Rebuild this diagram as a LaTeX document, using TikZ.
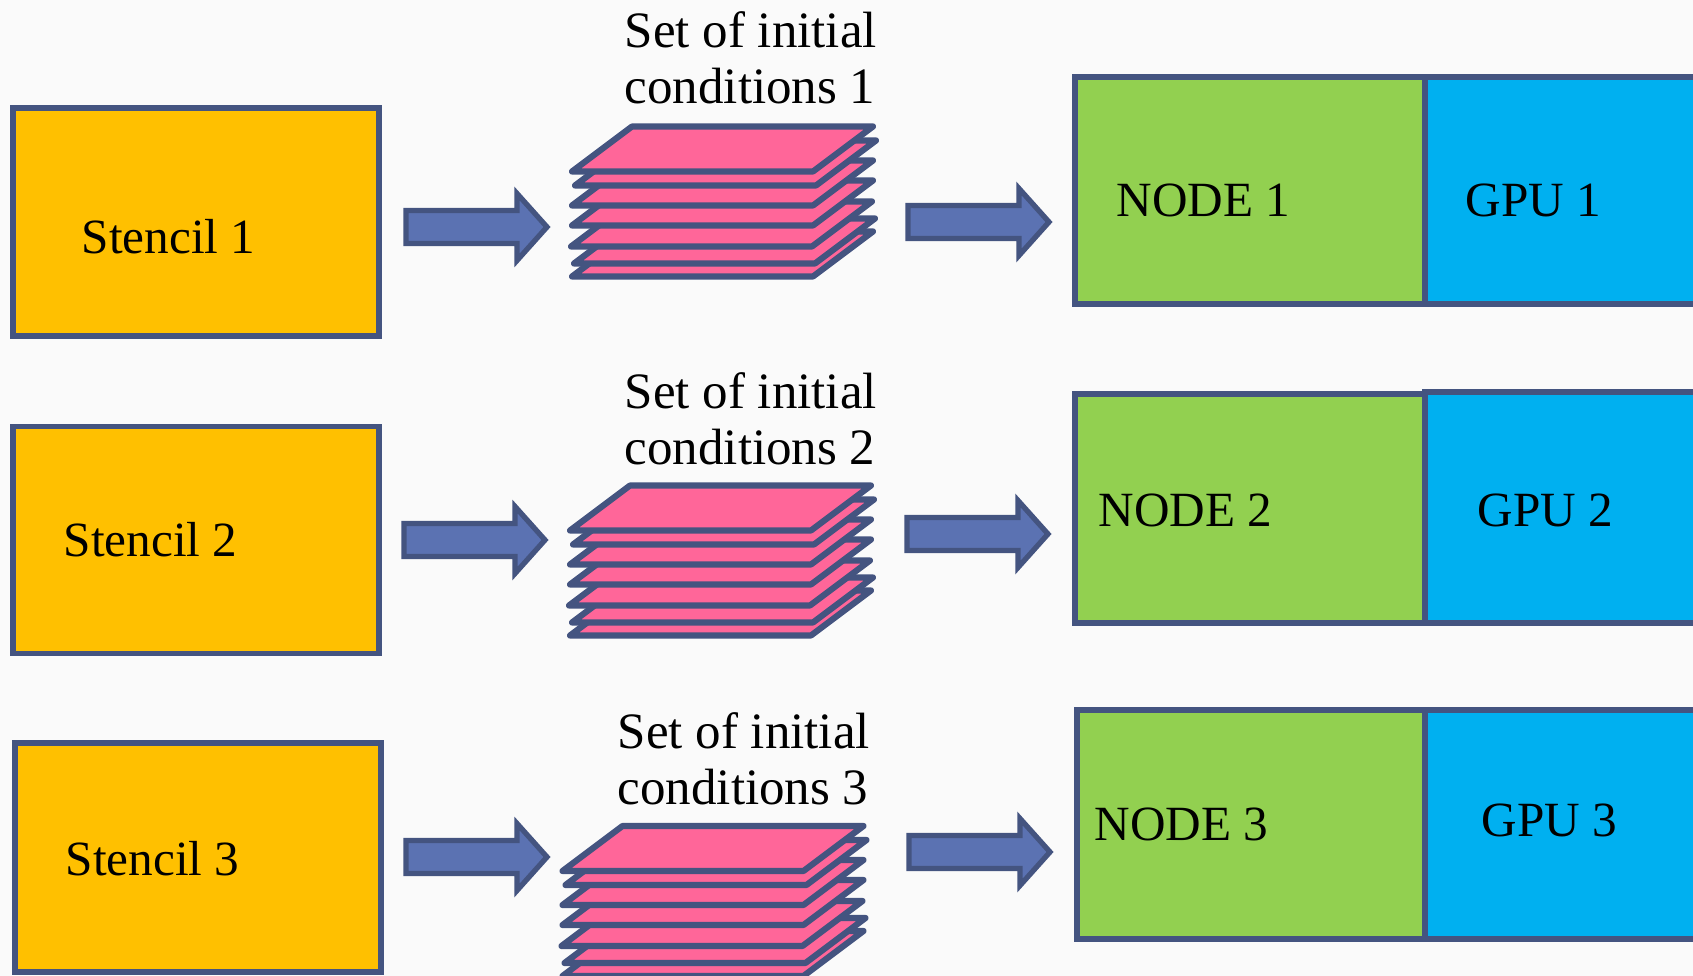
\documentclass[tikz,border=0pt]{standalone}
\usepackage{fontspec}
\setmainfont{Liberation Serif}

\definecolor{edgeblue}{RGB}{68,84,128}
\definecolor{stencilfill}{RGB}{255,192,0}
\definecolor{sheetpink}{RGB}{255,102,153}
\definecolor{arrowfill}{RGB}{91,114,178}
\definecolor{nodegreen}{RGB}{146,208,80}
\definecolor{gpublue}{RGB}{0,176,240}
\definecolor{backgr}{RGB}{250,250,250}

% one sheet of a stack, bottom left corner at (#1,#2)
\newcommand{\sheet}[2]{\draw[sheetline] (#1,#2) -- ++(241,0) -- ++(60,-45) -- ++(-241,0) -- cycle;}
% seven sheets, drawn from the bottom up
\newcommand{\sheetstack}[2]{%
  \foreach \dx/\dy in {0/105, 2/92, -1/75, 0/54, 0/34, 3/14, 0/0} {\sheet{#1+\dx}{#2+\dy}}}
% block arrow, (#1) is the middle of its tail
\newcommand{\fatarrow}[1]{\draw[arrowline] (#1) -- ++(0,-16.5) -- ++(111,0) -- ++(0,-17) -- ++(30,33.5) -- ++(-30,33.5) -- ++(0,-17) -- ++(-111,0) -- cycle;}

\begin{document}
\begin{tikzpicture}[x=0.01cm, y=-0.01cm,
stencilbox/.style={rectangle, draw=edgeblue, fill=stencilfill, line width=1.5pt, outer sep=0pt},
nodebox/.style={rectangle, draw=edgeblue, fill=nodegreen, line width=1.5pt, outer sep=0pt},
gpubox/.style={rectangle, draw=edgeblue, fill=gpublue, line width=1.5pt, outer sep=0pt},
sheetline/.style={draw=edgeblue, fill=sheetpink, line width=1.75pt, line join=round},
arrowline/.style={draw=edgeblue, fill=arrowfill, line width=1.5pt},
boxtext/.style={font=\fontsize{14}{16}\selectfont, inner sep=0pt, anchor=base west},
settext/.style={font=\fontsize{14.5}{15.9}\selectfont, inner sep=0pt, align=left, anchor=north west}
]
    \useasboundingbox (0,0) rectangle (1693,976);
    \fill[backgr] (0,0) rectangle (1693,976);
    \clip (0,0) rectangle (1693,976);

    \node [stencilbox, minimum width=3.66cm, minimum height=2.28cm] (st1) at (196,222) {};
    \node [stencilbox, minimum width=3.66cm, minimum height=2.27cm] (st2) at (196,540) {};
    \node [stencilbox, minimum width=3.66cm, minimum height=2.29cm] (st3) at (198,857.5) {};
    \node [boxtext] (st1t) at (81,254) {Stencil 1};
    \node [boxtext] (st2t) at (63,557) {Stencil 2};
    \node [boxtext] (st3t) at (65,875) {Stencil 3};

    \coordinate (ar1a) at (406,227);
    \coordinate (ar2a) at (404,540);
    \coordinate (ar3a) at (406,857);
    \coordinate (ar1b) at (908,222);
    \coordinate (ar2b) at (907,534);
    \coordinate (ar3b) at (909,852);
    \fatarrow{ar1a}
    \fatarrow{ar2a}
    \fatarrow{ar3a}
    \fatarrow{ar1b}
    \fatarrow{ar2b}
    \fatarrow{ar3b}

    \sheetstack{572}{171.5}
    \sheetstack{570}{530.5}
    \sheetstack{562.5}{871}
    \node [settext] (set1) at (624,11) {Set of initial\\conditions 1};
    \node [settext] (set2) at (624,372) {Set of initial\\conditions 2};
    \node [settext] (set3) at (617,712) {Set of initial\\conditions 3};

    \node [gpubox, minimum width=2.95cm, minimum height=2.27cm] (gpu1) at (1572.5,190.5) {};
    \node [gpubox, minimum width=2.95cm, minimum height=2.31cm] (gpu2) at (1572.5,507.5) {};
    \node [gpubox, minimum width=2.95cm, minimum height=2.29cm] (gpu3) at (1572.5,824.5) {};
    \node [nodebox, minimum width=3.50cm, minimum height=2.27cm] (nd1) at (1250,190.5) {};
    \node [nodebox, minimum width=3.50cm, minimum height=2.29cm] (nd2) at (1250,508.5) {};
    \node [nodebox, minimum width=3.48cm, minimum height=2.29cm] (nd3) at (1251,824.5) {};
    \node [boxtext] (nd1t) at (1116,217) {NODE 1};
    \node [boxtext] (nd2t) at (1098,526) {NODE 2};
    \node [boxtext] (nd3t) at (1094,840) {NODE 3};
    \node [boxtext] (gpu1t) at (1465,217) {GPU 1};
    \node [boxtext] (gpu2t) at (1477,526) {GPU 2};
    \node [boxtext] (gpu3t) at (1481,836) {GPU 3};
\end{tikzpicture}
\end{document}
